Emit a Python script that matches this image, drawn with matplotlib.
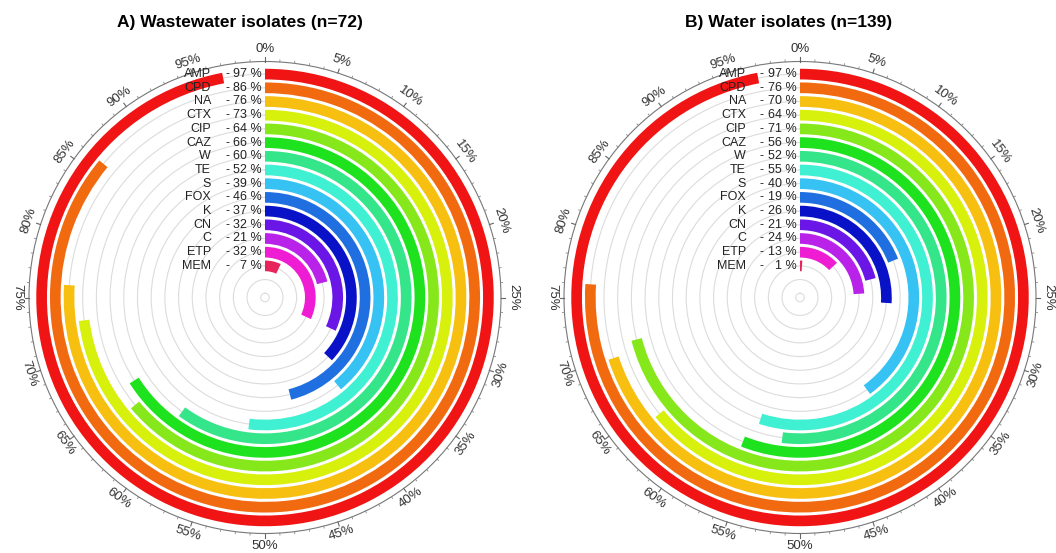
#!/usr/bin/env python3

#IMPORTING LIBRARIES
import numpy as np
import matplotlib
matplotlib.use('Agg')
import matplotlib.pyplot as plt
from matplotlib.transforms import offset_copy

plt.rcParams['font.family'] = ['Liberation Sans', 'DejaVu Sans']

#DATA (OUTER RING FIRST)
antibiotics = ['AMP', 'CPD', 'NA', 'CTX', 'CIP', 'CAZ', 'W', 'TE', 'S', 'FOX', 'K', 'CN', 'C', 'ETP', 'MEM']
wastewater = [97, 86, 76, 73, 64, 66, 60, 52, 39, 46, 37, 32, 21, 32, 7]
water = [97, 76, 70, 64, 71, 56, 52, 55, 40, 19, 26, 21, 24, 13, 1]
titles = ['A) Wastewater isolates (n=72)', 'B) Water isolates (n=139)']
colors = ['#f01414', '#f26a10', '#f7bf10', '#d7f00c', '#86e81a', '#1de21d', '#35e58a', '#3ff0d2',
          '#36c2f2', '#1f6fe0', '#0a12c8', '#6a16e6', '#b922e8', '#ee1cd2', '#e8245c']

fig = plt.figure(figsize=(10.56, 5.53), dpi=100)

RMAX = 16.92

def draw_panel(rect, values, title, title_x):
	ax = fig.add_axes(rect, projection='polar')
	ax.set_theta_zero_location('N')
	ax.set_theta_direction(-1)
	n = len(values)
	radii = np.arange(n)[::-1] + 2
	ax.set_ylim(-0.31, RMAX)

	#BARS
	angles = np.array(values) / 100.0 * 2 * np.pi
	ax.barh(radii, angles, left=0, height=0.78, color=colors, zorder=3)

	#GRID CIRCLES
	ax.set_yticks(np.arange(0, 17))
	ax.set_yticklabels([])
	ax.yaxis.grid(True, color='#dcdcdc', linewidth=0.8)
	ax.xaxis.grid(False)
	ax.spines['polar'].set_color('#777777')
	ax.spines['polar'].set_linewidth(0.8)

	#PERCENT TICKS (DRAWN BY HAND, OUTWARD)
	ax.set_xticks([])
	for p in range(100):
		th = p / 100.0 * 2 * np.pi
		if p % 5 == 0:
			ax.plot([th, th], [RMAX, RMAX + 0.3], color='#666666', lw=0.8, clip_on=False, zorder=4)
		else:
			ax.plot([th, th], [RMAX, RMAX + 0.15], color='#888888', lw=0.6, clip_on=False, zorder=4)
	for p in range(0, 100, 5):
		rot = -p * 3.6
		while rot < -90:
			rot += 180
		ax.text(p / 100.0 * 2 * np.pi, 17.8, str(p) + '%', rotation=rot, rotation_mode='anchor',
			ha='center', va='center', fontsize=9.5, color='#333333')

	#ANTIBIOTIC LABELS
	t_name = offset_copy(ax.transData, fig=fig, x=-54, y=0, units='dots')
	t_dash = offset_copy(ax.transData, fig=fig, x=-38, y=0, units='dots')
	t_val = offset_copy(ax.transData, fig=fig, x=-3, y=0, units='dots')
	for name, v, r in zip(antibiotics, values, radii):
		ax.text(0, r, name, transform=t_name, ha='right', va='center', fontsize=9, color='#222222', zorder=5)
		ax.text(0, r, '-', transform=t_dash, ha='center', va='center', fontsize=9, color='#222222', zorder=5)
		ax.text(0, r, str(v) + ' %', transform=t_val, ha='right', va='center', fontsize=9, color='#222222', zorder=5)

	fig.text(title_x, 1 - 22 / 553.0, title, ha='center', va='center', fontsize=12.5, fontweight='bold')
	return ax

draw_panel([29 / 1056.0, 19.5 / 553.0, 472 / 1056.0, 472 / 553.0], wastewater, titles[0], 240 / 1056.0)
draw_panel([564 / 1056.0, 19.5 / 553.0, 472 / 1056.0, 472 / 553.0], water, titles[1], 789 / 1056.0)

plt.savefig('out.png', dpi=100)
